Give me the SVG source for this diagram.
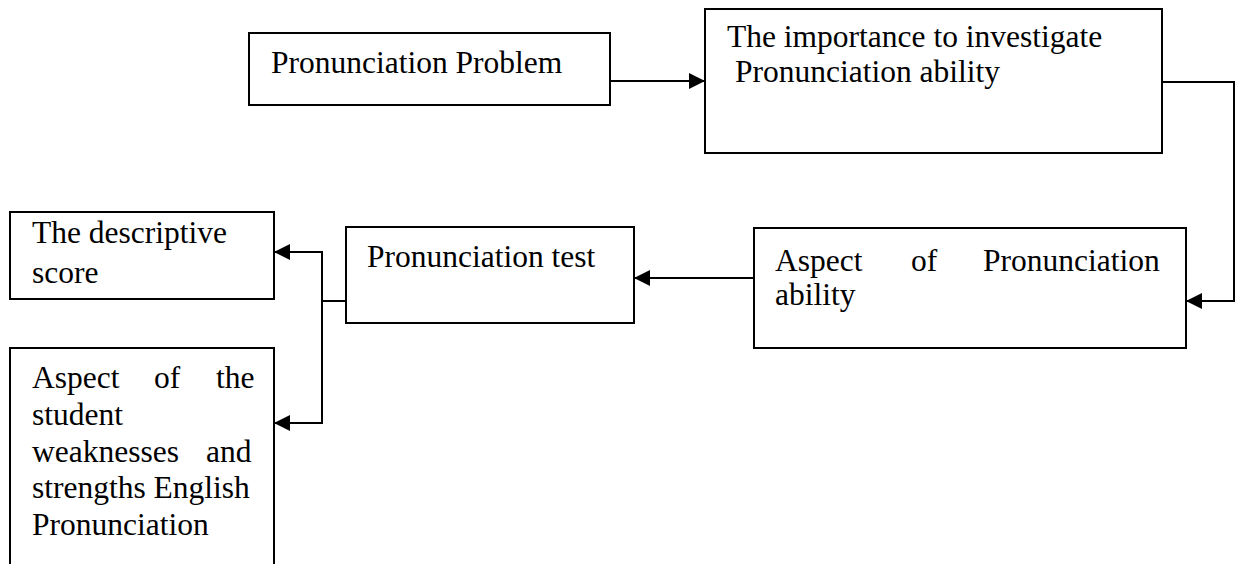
<svg xmlns="http://www.w3.org/2000/svg" width="1241" height="564" viewBox="0 0 1241 564">
  <style>
    .box { fill: #ffffff; stroke: #000000; stroke-width: 2; }
    .lbl { font-family: "Liberation Serif", "Times New Roman", serif; font-size: 31.5px; fill: #000000; }
    .conn { fill: none; stroke: #000000; stroke-width: 2; }
  </style>
  <defs>
    <marker id="arrow" markerUnits="userSpaceOnUse" markerWidth="16" markerHeight="16" viewBox="0 0 14 14" refX="14" refY="7" orient="auto">
      <path d="M0,0 L14,7 L0,14 Z" fill="#000000"/>
    </marker>
  </defs>
  <rect width="1241" height="564" fill="#ffffff"/>

  <g id="node-problem">
    <rect class="box" x="249" y="33" width="361" height="72"/>
    <text class="lbl" x="271" y="73">Pronunciation Problem</text>
  </g>

  <g id="node-importance">
    <rect class="box" x="705" y="9" width="457" height="144"/>
    <text class="lbl" x="727" y="47">The importance to investigate</text>
    <text class="lbl" x="735" y="82">Pronunciation ability</text>
  </g>

  <g id="node-aspect-pron">
    <rect class="box" x="754" y="228" width="432" height="120"/>
    <text class="lbl" y="271"><tspan x="775">Aspect</tspan><tspan x="911">of</tspan><tspan x="983">Pronunciation</tspan></text>
    <text class="lbl" x="775" y="305">ability</text>
  </g>

  <g id="node-test">
    <rect class="box" x="346" y="227" width="288" height="96"/>
    <text class="lbl" x="367" y="267">Pronunciation test</text>
  </g>

  <g id="node-descriptive">
    <rect class="box" x="10" y="212" width="264" height="87"/>
    <text class="lbl" x="32" y="243">The descriptive</text>
    <text class="lbl" x="32" y="283">score</text>
  </g>

  <g id="node-weakness">
    <rect class="box" x="10" y="348" width="264" height="230"/>
    <text class="lbl" y="388"><tspan x="32">Aspect</tspan><tspan x="154">of</tspan><tspan x="216">the</tspan></text>
    <text class="lbl" x="32" y="425">student</text>
    <text class="lbl" y="462"><tspan x="32">weaknesses</tspan><tspan x="206">and</tspan></text>
    <text class="lbl" x="32" y="498">strengths English</text>
    <text class="lbl" x="32" y="535">Pronunciation</text>
  </g>

  <g id="connectors">
    <path class="conn" d="M610,81 L705,81" marker-end="url(#arrow)"/>
    <path class="conn" d="M1162,82 L1234,82 L1234,301 L1186,301" marker-end="url(#arrow)"/>
    <path class="conn" d="M754,278 L634,278" marker-end="url(#arrow)"/>
    <path class="conn" d="M346,301 L322,301"/>
    <path class="conn" d="M322,301 L322,252 L274,252" marker-end="url(#arrow)"/>
    <path class="conn" d="M322,301 L322,423 L274,423" marker-end="url(#arrow)"/>
  </g>
</svg>
